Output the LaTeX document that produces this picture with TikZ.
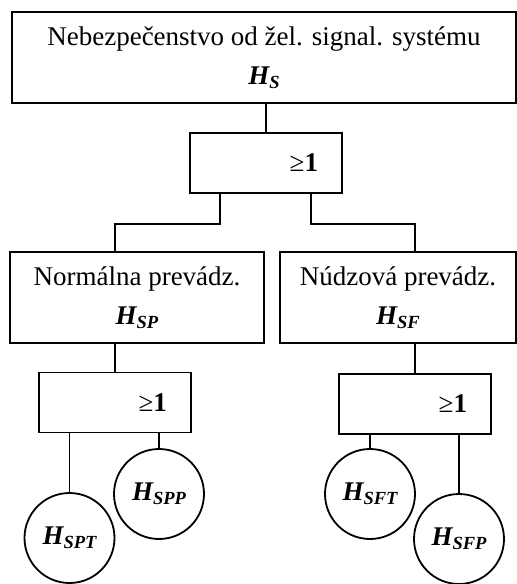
\documentclass[tikz,border=0pt]{standalone}
\usepackage{fontspec}
\setmainfont{Liberation Serif}
\newcommand{\hsym}[1]{{\bfseries\itshape H\raisebox{-4pt}{\fontsize{18.5}{20}\selectfont #1}}}

\begin{document}
\begin{tikzpicture}[x=1pt, y=-1pt, line width=1.8pt,
  every node/.style={font=\fontsize{27}{39}\selectfont},
  box/.style={draw, rectangle, align=center, inner sep=0pt, minimum height=91pt},
  gate/.style={draw, rectangle, inner sep=0pt, minimum width=152pt, minimum height=60pt, text width=104pt, align=right},
  event/.style={draw, circle, inner sep=0pt, minimum size=90pt}]

\useasboundingbox (0,0) rectangle (517,584);

% Vrcholova udalost
\node[box, minimum width=504pt] (top) at (264,57.5) {Nebezpečenstvo od žel. signal. systému\\\hsym{S}};
\node[gate] (gate0) at (266,163) {≥\textbf{1}};

% Prevadzkove stavy
\node[box, minimum width=254pt] (normal) at (137,297.5) {Normálna prevádz.\\\hsym{SP}};
\node[box, minimum width=236pt] (nudz) at (398,297.5) {Núdzová prevádz.\\\hsym{SF}};
\node[gate] (gateP) at (115,402.5) {≥\textbf{1}};
\node[gate] (gateF) at (415,404) {≥\textbf{1}};

% Zakladne udalosti
\node[event] (spt) at (69.5,538) {\hsym{SPT}};
\node[event] (spp) at (159,494) {\hsym{SPP}};
\node[event] (sft) at (370,494) {\hsym{SFT}};
\node[event] (sfp) at (459,539) {\hsym{SFP}};

% Spojenia
\draw (gate0.north |- top.south) -- (gate0.north);
\draw ([xshift=-46pt]gate0.south) -- ++(0,30) -| (gateP.north |- normal.north);
\draw ([xshift=45pt]gate0.south) -- ++(0,30) -| (gateF.north |- nudz.north);
\draw (gateP.north |- normal.south) -- (gateP.north);
\draw (gateF.north |- nudz.south) -- (gateF.north);
\draw (spt.north |- gateP.south) -- (spt.north);
\draw (spp.north |- gateP.south) -- (spp.north);
\draw (sft.north |- gateF.south) -- (sft.north);
\draw (sfp.north |- gateF.south) -- (sfp.north);

\end{tikzpicture}
\end{document}
